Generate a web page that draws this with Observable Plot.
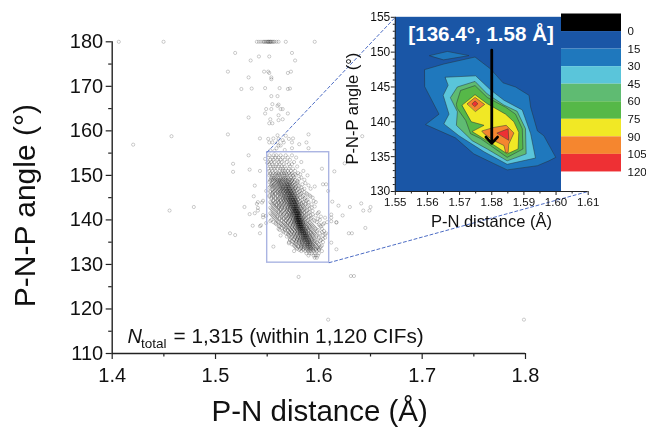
<!DOCTYPE html>
<html><head><meta charset="utf-8">
<script src="https://cdn.jsdelivr.net/npm/d3@7"></script>
<script src="https://cdn.jsdelivr.net/npm/@observablehq/plot@0.6"></script>
<style>
html,body{margin:0;padding:0;background:#fff}
#wrap{position:relative;width:646px;height:427px;overflow:hidden}
#wrap svg{position:absolute;left:0;top:0;filter:blur(.3px)}
</style></head><body><div id="wrap"></div>
<script>
const FONT = "'Liberation Sans', Arial, sans-serif";
const xTitle = "P-N distance (Å)";
const yTitle = "P-N-P angle (°)";
const peakLabel = "[136.4°, 1.58 Å]";
const mainXTicks = [1.4,1.5,1.6,1.7,1.8];
const mainXMinor = [1.45,1.55,1.65,1.75];
const mainYTicks = [110,120,130,140,150,160,170,180];
const mainYMinor = [115,125,135,145,155,165,175];
const insetXTicks = [1.55,1.56,1.57,1.58,1.59,1.60,1.61];
const insetXMinor = [1.555,1.565,1.575,1.585,1.595,1.605];
const insetYTicks = [130,135,140,145,150,155];
const insetYMinor = [131,132,133,134,136,137,138,139,141,142,143,144,146,147,148,149,151,152,153,154];

// isolated points read one by one [distance, angle]
const outliers = [
[1.4064,180],[1.4497,180],[1.540,180],[1.542,180],[1.544,180],[1.546,180],[1.547,180],[1.548,180],[1.549,180],[1.550,180],[1.551,180],[1.551,180],[1.552,180],[1.553,180],[1.553,180],[1.554,180],[1.555,180],[1.556,180],[1.557,180],[1.559,180],[1.561,180],[1.568,180],[1.596,180],
[1.519,177.5],[1.542,176.7],[1.552,176.7],[1.574,177.5],[1.534,175.8],[1.577,175.8],[1.512,173.3],[1.547,173.3],[1.551,173.3],[1.552,173],[1.573,173.3],[1.570,173],[1.532,172],[1.554,172],[1.554,171.6],[1.525,169.4],[1.535,169.5],[1.548,169.6],[1.562,169.6],[1.570,169.4],[1.572,169.5],[1.554,167.8],[1.560,167.8],[1.555,166],[1.561,165.9],[1.560,165.6],[1.549,164.9],[1.554,164.9],[1.563,164.9],[1.565,164.9],[1.548,163.9],[1.561,163.5],[1.570,163.9],[1.532,163],[1.553,162.6],[1.561,162.4],[1.565,162.6],[1.552,161.7],[1.555,161.7],
[1.512,159.2],[1.543,158.3],[1.560,159],[1.590,159.2],[1.551,158.2],[1.556,158.3],[1.561,158.2],[1.568,158.9],[1.571,158.2],[1.575,158.3],[1.552,157.4],[1.555,157.4],[1.560,157.4],[1.565,157.9],[1.566,157.4],[1.574,157.4],[1.581,157],[1.588,157.4],[1.561,156.7],[1.563,156.7],[1.559,156.1],[1.574,156.1],[1.590,156.1],[1.567,155.7],[1.557,155.5],[1.553,155.6],
[1.4203,156.9],[1.4574,158.8],[1.532,154.5],[1.517,152.6],[1.517,150.8],[1.533,151.3],[1.543,151],[1.548,153.7],[1.550,152.8],[1.538,147.7],[1.549,146.5],[1.537,145.3],[1.546,144.3],[1.545,143.9],[1.541,144],[1.540,143.6],[1.541,142.7],[1.541,142.1],[1.528,142.9],[1.479,142.9],[1.4555,142.1],[1.533,141.3],[1.538,141.5],[1.546,141.1],[1.549,140.9],[1.546,140.6],[1.549,139.3],[1.536,138.7],[1.544,138.8],[1.543,138.6],[1.514,137],[1.519,136.6],[1.543,137],
[1.625,152.7],[1.615,150.9],[1.642,158.8],[1.613,144.1],[1.619,143.2],[1.630,142.9],[1.641,143.7],[1.650,142.9],[1.649,142.1],[1.643,142.1],[1.623,141],[1.612,141.2],[1.612,140.5],[1.617,139.5],[1.617,139.4],[1.612,139.7],[1.645,138.2],[1.629,137],[1.632,137],[1.612,134.9],[1.617,133.4],[1.631,127.4],[1.634,127.4],[1.5804,127.2],[1.609,117.6],[1.7985,117.6]
];

// angle of each row of the dense cloud, and the distances estimated along that row
const cloudAngles = [154.5,154,153.5,153,152.5,152,151.5,151,150.5,150,149.5,149,148.5,148,147.5,147,146.5,146,145.5,145,144.5,144,143.5,143,142.5,142,141.5,141,140.5,140,139.5,139,138.5,138,137.5,137,136.5,136,135.5,135,134.5,134,133.5,133,132.5,132,131.5];
const cloudDistances = [
[1.552,1.556,1.559,1.563,1.568,1.574],
[1.551,1.555,1.558,1.561,1.565,1.570,1.578],
[1.553,1.556,1.560,1.563,1.567,1.572],
[1.551,1.554,1.557,1.561,1.564,1.569,1.576,1.583],
[1.552,1.555,1.559,1.562,1.566,1.571,1.574],
[1.553,1.556,1.558,1.561,1.564,1.567,1.572,1.579],
[1.551,1.554,1.557,1.560,1.563,1.565,1.568,1.571,1.575,1.603],
[1.552,1.555,1.558,1.562,1.565,1.567,1.570,1.573,1.577,1.585],
[1.553,1.556,1.559,1.561,1.564,1.566,1.568,1.571,1.574,1.580],
[1.552,1.555,1.557,1.560,1.562,1.565,1.567,1.569,1.572,1.575,1.578,1.589],
[1.554,1.556,1.558,1.561,1.563,1.566,1.568,1.570,1.573,1.576,1.583],
[1.553,1.555,1.558,1.560,1.562,1.564,1.566,1.568,1.570,1.572,1.574,1.577,1.586],
[1.552,1.556,1.559,1.561,1.563,1.565,1.567,1.569,1.571,1.573,1.576,1.580],
[1.554,1.557,1.560,1.562,1.564,1.566,1.567,1.569,1.570,1.571,1.572,1.574,1.577,1.584,1.604,1.607],
[1.553,1.555,1.558,1.561,1.563,1.565,1.566,1.568,1.569,1.570,1.571,1.573,1.575,1.578,1.581,1.596],
[1.556,1.559,1.562,1.564,1.565,1.567,1.568,1.569,1.570,1.571,1.572,1.573,1.575,1.577,1.580,1.586,1.592],
[1.553,1.557,1.560,1.563,1.565,1.566,1.568,1.569,1.570,1.571,1.572,1.573,1.574,1.576,1.578,1.582,1.609],
[1.555,1.558,1.561,1.563,1.566,1.567,1.569,1.570,1.571,1.572,1.573,1.574,1.575,1.577,1.579,1.583,1.588],
[1.552,1.556,1.560,1.564,1.566,1.568,1.570,1.571,1.572,1.573,1.574,1.575,1.576,1.578,1.580,1.585,1.591],
[1.554,1.558,1.562,1.565,1.567,1.569,1.570,1.571,1.572,1.573,1.574,1.575,1.576,1.577,1.579,1.582,1.587,1.594],
[1.556,1.560,1.563,1.566,1.568,1.570,1.571,1.572,1.573,1.574,1.575,1.575,1.576,1.577,1.578,1.580,1.584,1.589],
[1.553,1.558,1.561,1.564,1.567,1.569,1.571,1.572,1.573,1.574,1.575,1.576,1.576,1.577,1.578,1.579,1.581,1.585,1.590,1.597],
[1.555,1.559,1.563,1.566,1.569,1.571,1.572,1.573,1.574,1.575,1.576,1.577,1.577,1.578,1.579,1.581,1.583,1.587,1.593],
[1.557,1.561,1.564,1.567,1.570,1.572,1.573,1.574,1.575,1.576,1.576,1.577,1.578,1.578,1.579,1.580,1.582,1.585,1.589,1.596],
[1.554,1.559,1.563,1.567,1.570,1.572,1.574,1.575,1.576,1.576,1.577,1.578,1.578,1.579,1.580,1.581,1.583,1.586,1.591],
[1.556,1.561,1.565,1.569,1.572,1.574,1.575,1.576,1.577,1.577,1.578,1.578,1.579,1.579,1.580,1.581,1.582,1.584,1.588,1.594],
[1.553,1.558,1.563,1.567,1.571,1.573,1.575,1.576,1.577,1.578,1.578,1.579,1.579,1.580,1.580,1.581,1.582,1.583,1.586,1.590,1.599],
[1.555,1.560,1.565,1.569,1.572,1.574,1.576,1.577,1.578,1.578,1.579,1.579,1.580,1.580,1.581,1.581,1.582,1.584,1.587,1.592,1.597],
[1.557,1.562,1.566,1.570,1.573,1.575,1.577,1.578,1.578,1.579,1.579,1.580,1.580,1.581,1.581,1.582,1.583,1.585,1.588,1.593,1.606],
[1.554,1.559,1.564,1.568,1.572,1.575,1.577,1.578,1.579,1.579,1.580,1.580,1.581,1.581,1.582,1.582,1.583,1.584,1.586,1.590,1.595,1.601],
[1.556,1.561,1.566,1.570,1.574,1.576,1.578,1.579,1.579,1.580,1.580,1.581,1.581,1.582,1.582,1.583,1.584,1.585,1.587,1.591,1.598,1.608],
[1.559,1.564,1.568,1.572,1.575,1.577,1.579,1.580,1.580,1.581,1.581,1.582,1.582,1.583,1.583,1.584,1.585,1.587,1.589,1.593,1.600,1.604],
[1.562,1.566,1.570,1.574,1.577,1.579,1.580,1.581,1.581,1.582,1.582,1.583,1.583,1.584,1.585,1.586,1.588,1.591,1.595,1.602],
[1.561,1.567,1.572,1.575,1.578,1.580,1.581,1.582,1.582,1.583,1.584,1.584,1.585,1.586,1.587,1.589,1.592,1.597,1.603],
[1.565,1.570,1.574,1.577,1.579,1.581,1.582,1.583,1.584,1.584,1.585,1.586,1.587,1.588,1.590,1.594,1.598,1.605],
[1.568,1.572,1.576,1.579,1.581,1.582,1.583,1.584,1.585,1.586,1.586,1.587,1.588,1.590,1.592,1.596,1.601,1.607],
[1.563,1.571,1.575,1.578,1.580,1.582,1.584,1.585,1.586,1.587,1.587,1.588,1.589,1.591,1.594,1.598,1.604],
[1.573,1.577,1.580,1.582,1.584,1.585,1.586,1.587,1.588,1.589,1.590,1.592,1.595,1.600,1.606],
[1.572,1.576,1.579,1.581,1.583,1.585,1.586,1.587,1.588,1.589,1.590,1.591,1.593,1.597,1.602],
[1.571,1.575,1.578,1.581,1.583,1.585,1.587,1.588,1.589,1.590,1.591,1.592,1.594,1.598,1.604],
[1.574,1.578,1.582,1.584,1.586,1.588,1.589,1.590,1.591,1.592,1.594,1.596,1.600],
[1.556,1.577,1.580,1.583,1.585,1.587,1.589,1.590,1.591,1.593,1.595,1.598,1.602],
[1.579,1.582,1.585,1.588,1.590,1.592,1.593,1.595,1.597,1.600],
[1.576,1.583,1.587,1.590,1.592,1.595,1.598,1.603],
[1.588,1.591,1.593,1.596,1.600],
[1.590,1.595,1.597,1.599],
[1.596,1.598]
];
// second pass between those rows: the wider halo of the cloud
const haloAngles = [150.25,149.25,148.75,148.25,147.75,147.25,146.75,146.25,145.75,145.25,144.75,144.25,143.75,143.25,142.75,142.25,141.75,141.25,140.75,140.25,139.75,139.25,138.75,138.25,137.75,137.25,136.75,136.25,135.75,135.25,134.75,134.25,133.75,133.25];
const haloDistances = [
[1.553,1.558,1.561,1.564,1.569,1.573,1.577,1.582],
[1.554,1.557,1.559,1.563,1.565,1.567,1.571,1.575,1.581],
[1.553,1.557,1.560,1.562,1.564,1.568,1.570,1.574,1.579],
[1.555,1.558,1.561,1.563,1.566,1.568,1.572,1.575,1.579,1.587],
[1.554,1.556,1.559,1.562,1.564,1.567,1.570,1.572,1.576,1.580,1.590],
[1.552,1.557,1.560,1.563,1.565,1.568,1.571,1.574,1.577,1.583],
[1.555,1.558,1.561,1.564,1.566,1.569,1.572,1.575,1.579,1.584],
[1.553,1.556,1.560,1.562,1.565,1.568,1.570,1.573,1.576,1.581,1.586],
[1.555,1.558,1.562,1.564,1.567,1.569,1.572,1.574,1.577,1.582,1.589],
[1.552,1.556,1.560,1.563,1.566,1.568,1.571,1.573,1.576,1.579,1.584,1.592],
[1.554,1.558,1.561,1.565,1.567,1.570,1.572,1.575,1.577,1.580,1.586],
[1.556,1.560,1.563,1.566,1.568,1.571,1.573,1.576,1.578,1.582,1.588,1.595],
[1.554,1.557,1.561,1.564,1.567,1.570,1.572,1.574,1.577,1.579,1.583,1.587],
[1.556,1.559,1.562,1.565,1.568,1.571,1.573,1.575,1.578,1.580,1.584,1.590],
[1.553,1.558,1.561,1.564,1.567,1.570,1.572,1.575,1.577,1.579,1.582,1.586,1.593],
[1.555,1.560,1.563,1.566,1.569,1.571,1.574,1.576,1.578,1.581,1.585,1.589],
[1.557,1.561,1.564,1.568,1.570,1.573,1.575,1.577,1.580,1.582,1.586,1.591,1.600],
[1.554,1.559,1.563,1.566,1.569,1.572,1.574,1.576,1.579,1.581,1.584,1.588,1.594],
[1.556,1.560,1.564,1.568,1.571,1.573,1.576,1.578,1.580,1.583,1.586,1.590,1.602],
[1.558,1.562,1.566,1.569,1.572,1.575,1.577,1.579,1.581,1.584,1.587,1.592,1.599],
[1.553,1.560,1.564,1.568,1.571,1.574,1.576,1.578,1.580,1.583,1.585,1.589,1.596],
[1.558,1.563,1.567,1.570,1.573,1.576,1.578,1.580,1.582,1.585,1.588,1.592,1.605],
[1.561,1.565,1.569,1.572,1.575,1.578,1.580,1.582,1.584,1.586,1.590,1.594,1.601],
[1.564,1.568,1.571,1.574,1.577,1.579,1.581,1.583,1.585,1.588,1.591,1.596],
[1.562,1.567,1.570,1.573,1.576,1.579,1.581,1.583,1.585,1.587,1.590,1.593,1.599],
[1.566,1.571,1.574,1.577,1.580,1.582,1.584,1.586,1.588,1.592,1.595,1.603],
[1.570,1.573,1.576,1.579,1.582,1.584,1.586,1.588,1.590,1.593,1.597,1.606],
[1.569,1.574,1.577,1.580,1.583,1.585,1.587,1.589,1.591,1.594,1.600],
[1.572,1.576,1.579,1.582,1.584,1.586,1.588,1.590,1.593,1.596,1.604],
[1.574,1.578,1.581,1.584,1.586,1.589,1.591,1.593,1.596,1.601],
[1.571,1.577,1.581,1.584,1.587,1.589,1.592,1.595,1.599],
[1.576,1.580,1.583,1.586,1.589,1.591,1.594,1.597,1.603],
[1.578,1.583,1.586,1.589,1.592,1.594,1.599,1.601],
[1.581,1.585,1.589,1.591,1.594,1.597,1.600]
];
const scatter = outliers
  .concat(cloudAngles.flatMap((a,i)=>cloudDistances[i].map(d=>[d,a])))
  .concat(haloAngles.flatMap((a,i)=>haloDistances[i].map(d=>[d,a])));

// region shown enlarged
const box = {x1:1.55,x2:1.61,y1:130.4,y2:155.2};
// corners of the inset frame, expressed on the main axes
const leaders = [[[1.55,155.2],[1.674,185.5]],[[1.61,130.4],[1.8608,146.4]]];

// colour key
const levelValues = [0,15,30,45,60,75,90,105,120];
const levelColors = ["#000000","#1a56a6","#1f78bd","#5ac5da","#5fbb72","#56b848","#f1e825","#f5862f","#ee3034"];

// contour outlines [distance, angle]
const c15a = [[1.5592,147.5],[1.5651,148.3],[1.5748,149.3],[1.5796,147.6],[1.5835,145.6],[1.5874,145.0],[1.5916,143.8],[1.5921,142.1],[1.5942,138.7],[1.5962,138.0],[1.5999,134.9],[1.5978,134.4],[1.5942,133.7],[1.5848,133.1],[1.5807,134.0],[1.5744,135.4],[1.5687,137.7],[1.5594,139.6],[1.5636,141.1],[1.5592,145.0]];
const c15b = [[1.5607,149.5],[1.5662,150.1],[1.5729,149.5],[1.5651,148.9]];
const c30 = [[1.5656,146.4],[1.5750,146.6],[1.5796,144.6],[1.5838,143.1],[1.5895,141.7],[1.5921,138.3],[1.5936,134.8],[1.5848,133.9],[1.5776,135.7],[1.5698,138.0],[1.5651,139.7],[1.5667,141.1],[1.5649,143.8],[1.5664,145.2]];
const c45 = [[1.5672,143.5],[1.5693,145.0],[1.5748,145.8],[1.5786,144.0],[1.5838,142.4],[1.5879,141.5],[1.5905,139.0],[1.5907,135.4],[1.5848,134.4],[1.5786,136.1],[1.5739,137.3],[1.5690,139.5],[1.5693,141.4]];
const c60 = [[1.5690,142.6],[1.5703,144.5],[1.5748,145.2],[1.5786,143.5],[1.5843,142.1],[1.5874,141.1],[1.5895,139.0],[1.5897,136.1],[1.5848,134.9],[1.5796,136.6],[1.5765,137.6],[1.5734,138.3],[1.5719,140.2],[1.5693,141.9]];
const c75 = [[1.5708,142.4],[1.5748,143.9],[1.5786,142.6],[1.5843,141.1],[1.5869,140.0],[1.5884,138.5],[1.5882,136.1],[1.5848,135.4],[1.5796,137.0],[1.5739,138.6],[1.5776,139.5],[1.5737,140.0]];
const c90a = [[1.5724,142.6],[1.5748,143.5],[1.5778,142.5],[1.5750,141.5]];
const c90b = [[1.5770,138.7],[1.5807,139.2],[1.5845,139.5],[1.5869,138.4],[1.5853,136.8],[1.5851,135.6],[1.5843,135.6],[1.5838,136.6],[1.5807,137.3],[1.5776,138.3]];
const c105a = [[1.5739,142.6],[1.5748,143.0],[1.5757,142.6],[1.5748,142.2]];
const c105b = [[1.5817,138.4],[1.5851,139.0],[1.5853,137.4]];
const contours = [[c15a,2],[c15b,2],[c30,3],[c45,4],[c60,5],[c75,6],[c90a,7],[c90b,7],[c105a,8],[c105b,8]];

const ink = "#222";
const main = Plot.plot({
  width:646,height:427,marginLeft:111.7,marginRight:121,marginTop:41.3,marginBottom:74,
  style:{background:"transparent",fontFamily:FONT},
  x:{domain:[1.4,1.8]},y:{domain:[110,180]},
  marks:[
    Plot.dot(scatter,{x:d=>d[0],y:d=>d[1],r:1.6,stroke:"#000",strokeOpacity:.27,strokeWidth:.75,fill:"none"}),
    Plot.rect([box],{x1:"x1",x2:"x2",y1:"y1",y2:"y2",fill:"none",stroke:"#aab4e2",strokeWidth:1.4}),
    ...leaders.map(l=>Plot.line(l,{x:d=>d[0],y:d=>d[1],stroke:"#4c6cc4",strokeWidth:1,strokeDasharray:"3,2.5"})),
    Plot.axisX({ticks:mainXTicks,tickFormat:d3.format(".1f"),tickSize:6,tickPadding:8,fontSize:20,label:null,stroke:ink,strokeWidth:1.2,fill:"#111"}),
    Plot.axisX({ticks:mainXMinor,tickSize:3.5,text:null,label:null,stroke:ink,strokeWidth:1.2}),
    Plot.axisY({ticks:mainYTicks,tickSize:6,tickPadding:3,fontSize:20,label:null,stroke:ink,strokeWidth:1.2,fill:"#111"}),
    Plot.axisY({ticks:mainYMinor,tickSize:3.5,text:null,label:null,stroke:ink,strokeWidth:1.2}),
    Plot.ruleX([1.4],{stroke:ink,strokeWidth:1.4}),
    Plot.ruleY([110],{stroke:ink,strokeWidth:1.4}),
    Plot.text([xTitle],{x:1.6008,y:96.9,text:d=>d,fontSize:29.5,fill:"#111"}),
    Plot.text([yTitle],{x:1.316,y:143.2,text:d=>d,fontSize:30,rotate:-90,fill:"#111"}),
    Plot.text(["N"],{x:1.4149,y:113.8,text:d=>d,fontSize:20,fontStyle:"italic",textAnchor:"start",fill:"#111"}),
    Plot.text(["total"],{x:1.4279,y:112.3,text:d=>d,fontSize:13.5,textAnchor:"start",fill:"#111"}),
    Plot.text(["= 1,315 (within 1,120 CIFs)"],{x:1.4593,y:113.8,text:d=>d,fontSize:20.8,textAnchor:"start",fill:"#111"})
  ]
});

const inset = Plot.plot({
  width:646,height:427,marginLeft:394.8,marginRight:58.3,marginTop:16.8,marginBottom:236,
  style:{background:"transparent",fontFamily:FONT},
  x:{domain:[1.55,1.61]},y:{domain:[130,155]},
  marks:[
    Plot.rect([{x1:1.55,x2:1.6017,y1:130,y2:155}],{x1:"x1",x2:"x2",y1:"y1",y2:"y2",fill:levelColors[1]}),
    ...contours.map(([pts,k])=>Plot.line(pts,{x:d=>d[0],y:d=>d[1],curve:"linear-closed",fill:levelColors[k],stroke:"#263238",strokeWidth:.5})),
    Plot.arrow([{x:1.58,y1:150.3,y2:136.9}],{x:"x",y1:"y1",y2:"y2",bend:0,stroke:"#000",strokeWidth:2.8,headLength:4.6,headAngle:85}),
    Plot.text([peakLabel],{x:1.5767,y:152.6,text:d=>d,fontSize:20.6,fontWeight:"bold",fill:"#fff"}),
    Plot.axisX({ticks:insetXTicks,tickFormat:d3.format(".2f"),tickSize:4,tickPadding:2,fontSize:11.5,label:null,stroke:ink,fill:"#111"}),
    Plot.axisX({ticks:insetXMinor,tickSize:2.5,text:null,label:null,stroke:ink}),
    Plot.axisY({ticks:insetYTicks,tickSize:4,tickPadding:1,fontSize:12,label:null,stroke:ink,fill:"#111"}),
    Plot.axisY({ticks:insetYMinor,tickSize:2,text:null,label:null,stroke:ink}),
    Plot.ruleX([1.55],{stroke:ink}),
    Plot.ruleY([130],{stroke:ink}),
    Plot.text([xTitle],{x:1.5799,y:125.6,text:d=>d,fontSize:16.5,fill:"#111"}),
    Plot.text([yTitle],{x:1.5368,y:141.9,text:d=>d,fontSize:16.5,rotate:-90,fill:"#111"})
  ]
});

const key = Plot.plot({
  width:646,height:427,marginLeft:561,marginRight:25,marginTop:13.5,marginBottom:238,
  style:{background:"transparent",fontFamily:FONT},
  x:{domain:[0,1],axis:null},y:{domain:[135,-15],axis:null},
  marks:[
    Plot.rect([120],{x1:0,x2:1,y1:d=>d,y2:d=>d+15,fill:"#fff"}),
    Plot.rect(levelValues,{x1:0,x2:1,y1:d=>d-15,y2:d=>d,fill:(d,i)=>levelColors[i]}),
    Plot.text(levelValues,{x:1,y:d=>d,text:d=>String(d),dx:6,textAnchor:"start",fontSize:11.5,fill:"#111"})
  ]
});
document.getElementById("wrap").append(main,inset,key);
</script></body></html>
